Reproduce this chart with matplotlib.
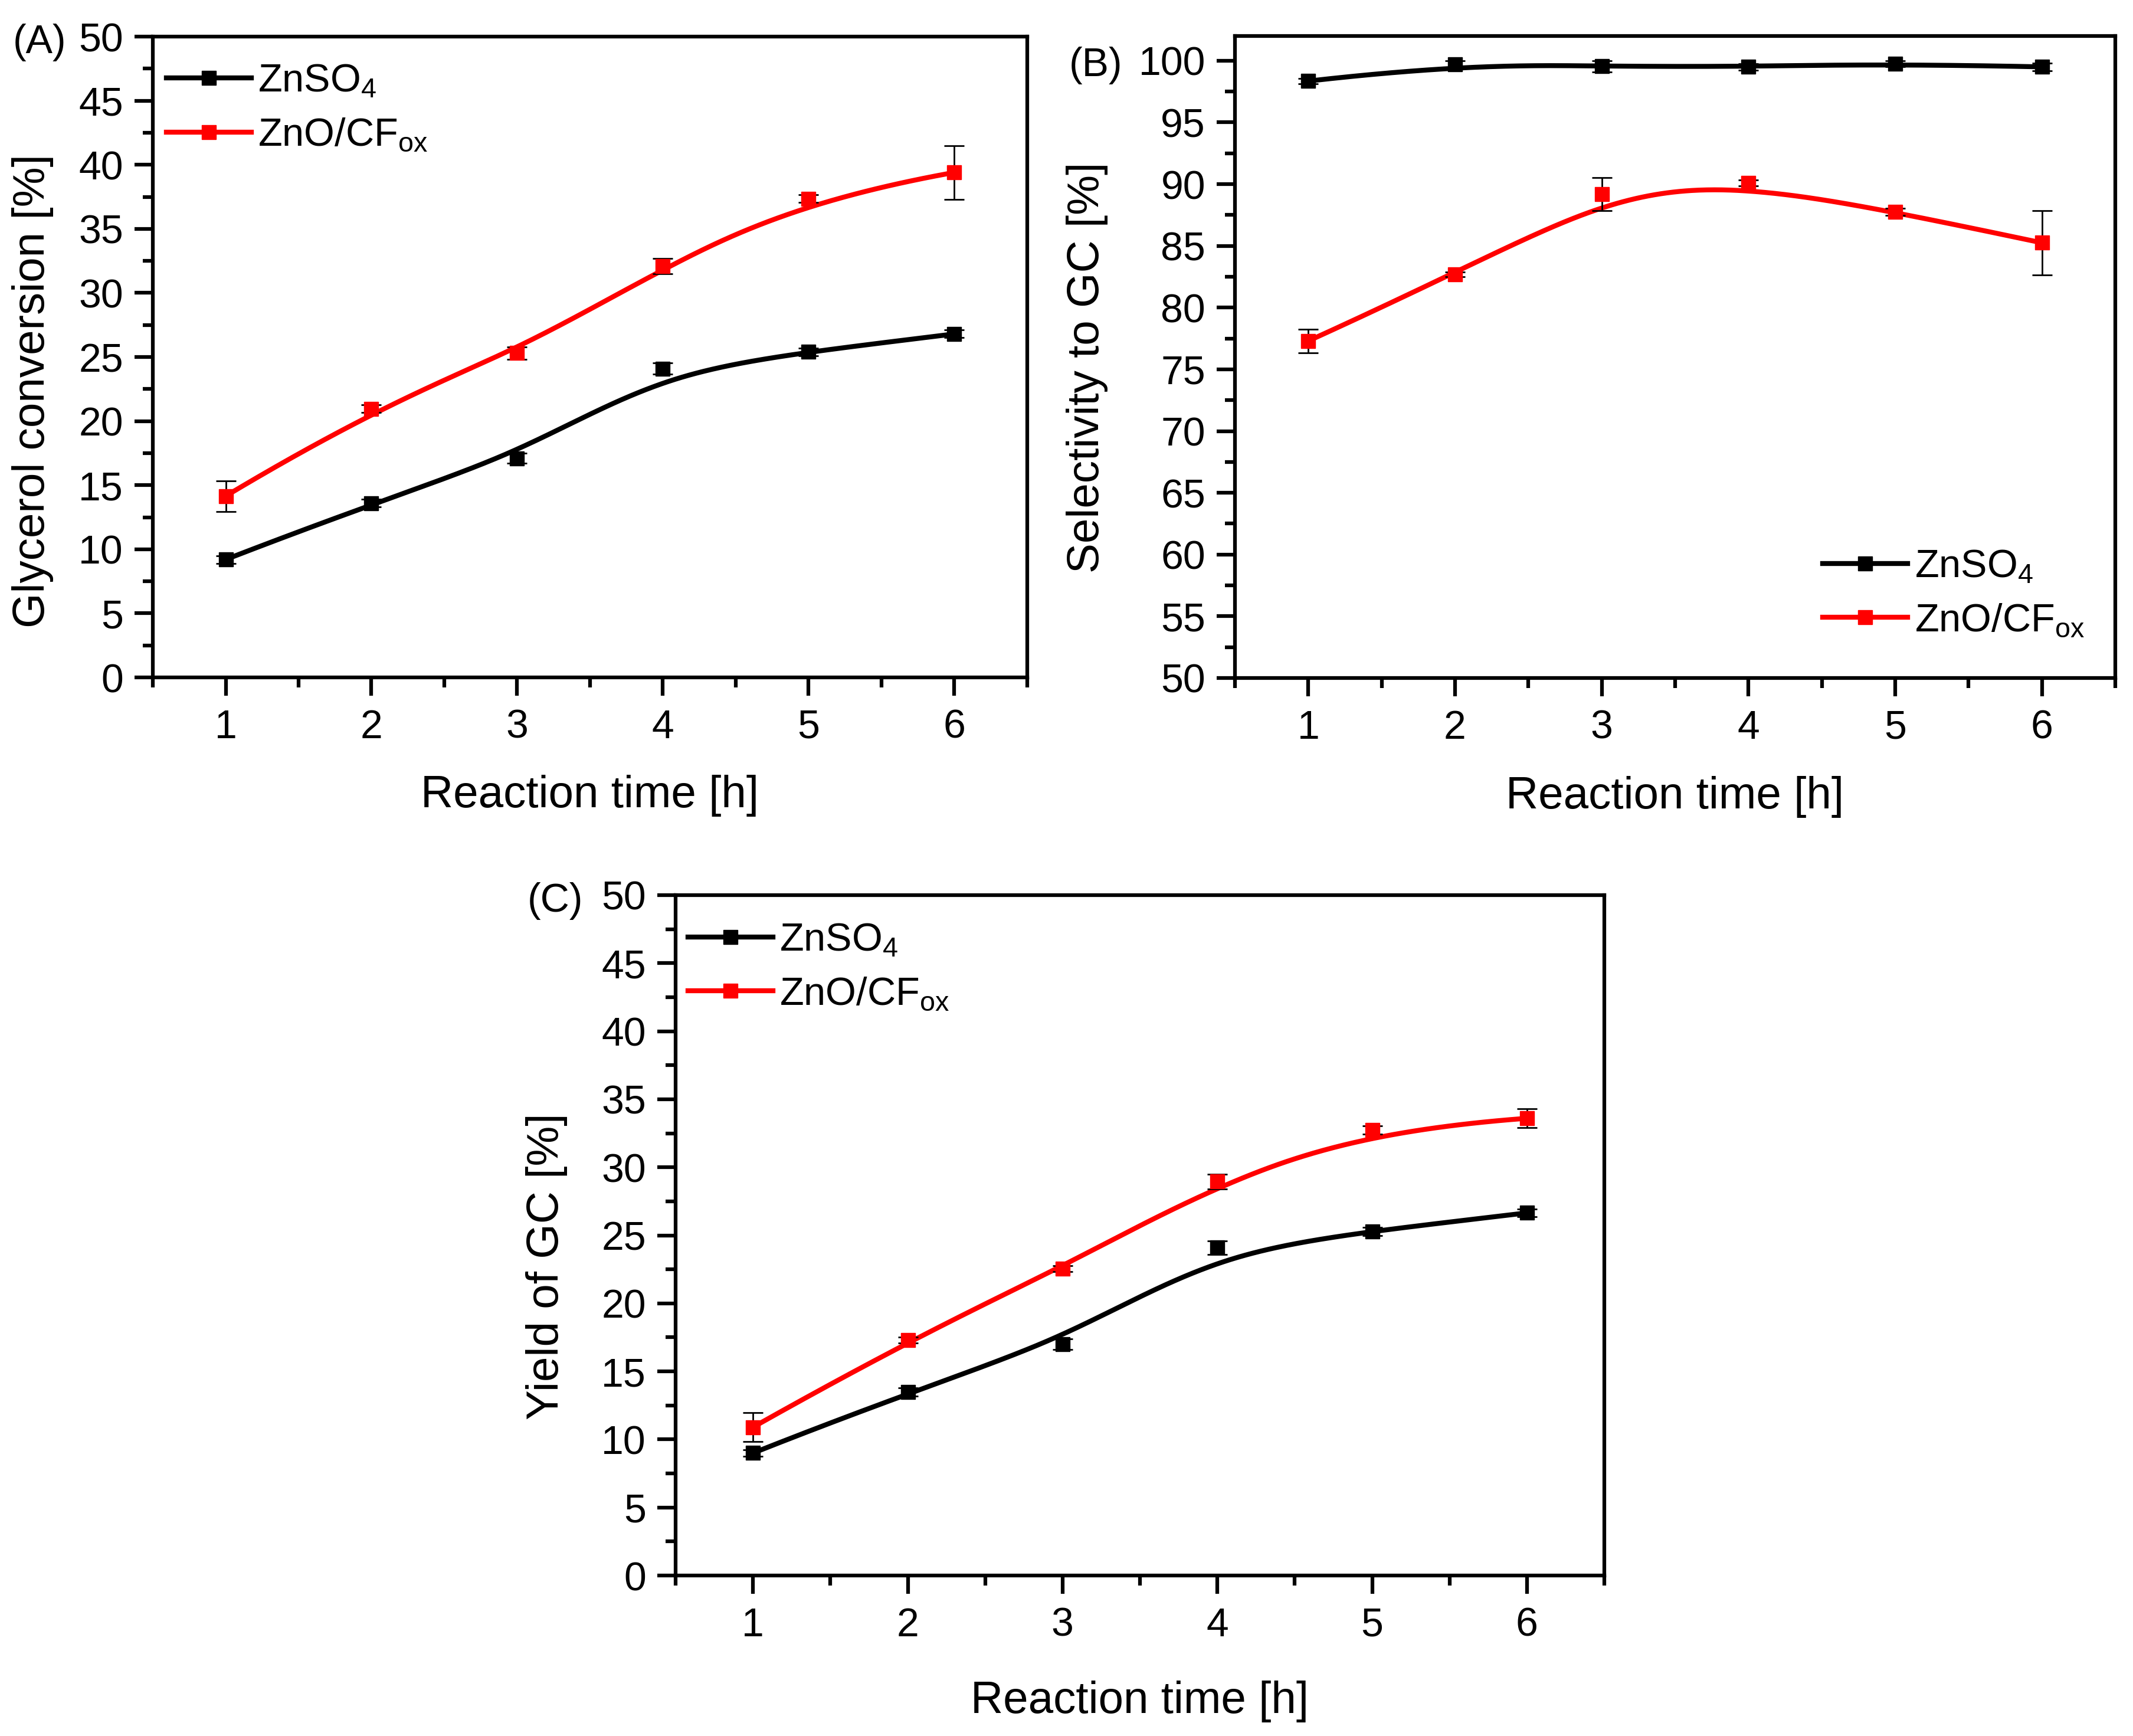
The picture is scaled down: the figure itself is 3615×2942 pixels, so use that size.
import numpy as np
import matplotlib
matplotlib.use("Agg")
import matplotlib.pyplot as plt
from matplotlib import font_manager
from matplotlib.ticker import MultipleLocator
from matplotlib.lines import Line2D

# the original uses a tall, narrow Arial; use the narrow face if we have it
try:
    font_manager.findfont('Liberation Sans Narrow', fallback_to_default=False)
    FONT = 'Liberation Sans Narrow'
    fs_scale = 1.13
except ValueError:
    FONT = 'Liberation Sans'
    fs_scale = 1.0

plt.rcParams['font.family'] = [FONT, 'DejaVu Sans']
plt.rcParams['mathtext.fontset'] = 'custom'
plt.rcParams['mathtext.rm'] = FONT
plt.rcParams['mathtext.it'] = FONT

# data
time_h = [1, 2, 3, 4, 5, 6]
labels = ['ZnSO$_\\mathregular{4}$', 'ZnO/CF$_\\mathregular{ox}$']
colors = ['black', 'red']

conv_znso4 = [9.2, 13.6, 17.1, 24.1, 25.4, 26.8]
conv_znso4_err = [0.3, 0.3, 0.4, 0.45, 0.3, 0.3]
conv_zno = [14.15, 20.95, 25.3, 32.1, 37.35, 39.4]
conv_zno_err = [1.2, 0.3, 0.5, 0.6, 0.3, 2.1]

sel_znso4 = [98.35, 99.7, 99.55, 99.5, 99.75, 99.5]
sel_znso4_err = [0.2, 0.3, 0.45, 0.25, 0.25, 0.3]
sel_zno = [77.3, 82.7, 89.2, 90.1, 87.75, 85.25]
sel_zno_err = [0.95, 0.2, 1.35, 0.25, 0.3, 2.6]

yield_znso4 = [9.0, 13.5, 17.0, 24.1, 25.3, 26.65]
yield_znso4_err = [0.25, 0.3, 0.4, 0.5, 0.3, 0.3]
yield_zno = [10.9, 17.3, 22.55, 28.95, 32.75, 33.6]
yield_zno_err = [1.05, 0.2, 0.2, 0.55, 0.3, 0.7]


def bspline(xs, ys, n=400, k=3):
    # clamped cubic B-spline with the data points as control points (Origin style)
    P = np.column_stack([xs, ys]).astype(float)
    m = len(P)
    knots = np.concatenate([np.zeros(k), np.arange(m - k + 1), np.full(k, m - k)]).astype(float)
    t = np.linspace(0, m - k, n)

    def basis(i, p):
        if p == 0:
            res = ((knots[i] <= t) & (t < knots[i + 1])).astype(float)
            if knots[i] < knots[i + 1] and knots[i + 1] == knots[-1]:
                res[t == knots[-1]] = 1.0
            return res
        out = np.zeros_like(t)
        d1 = knots[i + p] - knots[i]
        if d1 > 0:
            out += (t - knots[i]) / d1 * basis(i, p - 1)
        d2 = knots[i + p + 1] - knots[i + 1]
        if d2 > 0:
            out += (knots[i + p + 1] - t) / d2 * basis(i + 1, p - 1)
        return out

    N = np.array([basis(i, k) for i in range(m)])
    c = N.T @ P
    return c[:, 0], c[:, 1]


W, H = 3615, 2942
fig = plt.figure(figsize=(W / 100, H / 100), dpi=100)

ax_a = fig.add_axes([259 / W, 1 - 1148 / H, 1482 / W, 1086 / H])
ax_b = fig.add_axes([2093 / W, 1 - 1149 / H, 1492 / W, 1088 / H])
ax_c = fig.add_axes([1145 / W, 1 - 2670 / H, 1574 / W, 1153 / H])

TICK_FS = 49 * fs_scale
LABEL_FS = 55 * fs_scale
LEG_FS = 48 * fs_scale
LEG_SPACING = 0.28 if fs_scale > 1 else 0.44
LW = 6
MS = 17


def draw_panel(ax, series, ylim, ylabel, ylab_pos, leg_loc, leg_anchor):
    for (vals, errs), col in zip(series, colors):
        sx, sy = bspline(time_h, vals)
        ax.plot(sx, sy, color=col, lw=LW, zorder=2, solid_capstyle='round')
        ax.errorbar(time_h, vals, yerr=errs, fmt='none', ecolor='black',
                    elinewidth=2.0, capsize=12.5, capthick=2.0, zorder=3)
        ax.plot(time_h, vals, ls='none', marker='s', ms=MS, color=col,
                mec=col, zorder=4)

    ax.set_xlim(0.5, 6.5)
    ax.set_ylim(*ylim)
    ax.xaxis.set_major_locator(MultipleLocator(1))
    ax.xaxis.set_minor_locator(MultipleLocator(0.5))
    ax.yaxis.set_major_locator(MultipleLocator(5))
    ax.yaxis.set_minor_locator(MultipleLocator(2.5))
    ax.tick_params(which='both', direction='out', top=False, right=False, width=4.5)
    ax.tick_params(which='major', length=22, labelsize=TICK_FS)
    ax.tick_params(axis='y', which='major', pad=14)
    ax.tick_params(axis='x', which='major', pad=16)
    ax.tick_params(which='minor', length=12)
    for sp in ax.spines.values():
        sp.set_linewidth(4.5)

    ax.set_xlabel('Reaction time [h]', fontsize=LABEL_FS)
    ax.xaxis.set_label_coords(0.5, -0.185)
    ax.xaxis.label.set_va('center')
    ax.set_ylabel(ylabel, fontsize=LABEL_FS)
    ax.yaxis.set_label_coords(*ylab_pos)
    ax.yaxis.label.set_va('center')

    handles = [Line2D([], [], color=c, lw=LW, marker='s', ms=MS) for c in colors]
    ax.legend(handles, labels, loc=leg_loc, bbox_to_anchor=leg_anchor,
              frameon=False, fontsize=LEG_FS, handlelength=144 / (LEG_FS * 100 / 72),
              handletextpad=0.17, labelspacing=LEG_SPACING, borderpad=0,
              borderaxespad=0, numpoints=1)


draw_panel(ax_a, [(conv_znso4, conv_znso4_err), (conv_zno, conv_zno_err)],
           (0, 50), 'Glycerol conversion [%]', (-0.137, 0.447),
           'upper left', (0.0155, 0.958))
draw_panel(ax_b, [(sel_znso4, sel_znso4_err), (sel_zno, sel_zno_err)],
           (50, 102), 'Selectivity to GC [%]', (-0.168, 0.484),
           'lower right', (0.965, 0.06))
draw_panel(ax_c, [(yield_znso4, yield_znso4_err), (yield_zno, yield_zno_err)],
           (0, 50), 'Yield of GC [%]', (-0.139, 0.454),
           'upper left', (0.0133, 0.96))

fig.text(22 / W, 1 - 72 / H, '(A)', fontsize=TICK_FS, ha='left', va='center')
fig.text(1812 / W, 1 - 111 / H, '(B)', fontsize=TICK_FS, ha='left', va='center')
fig.text(894 / W, 1 - 1527 / H, '(C)', fontsize=TICK_FS, ha='left', va='center')

fig.savefig('out.png', dpi=100)
